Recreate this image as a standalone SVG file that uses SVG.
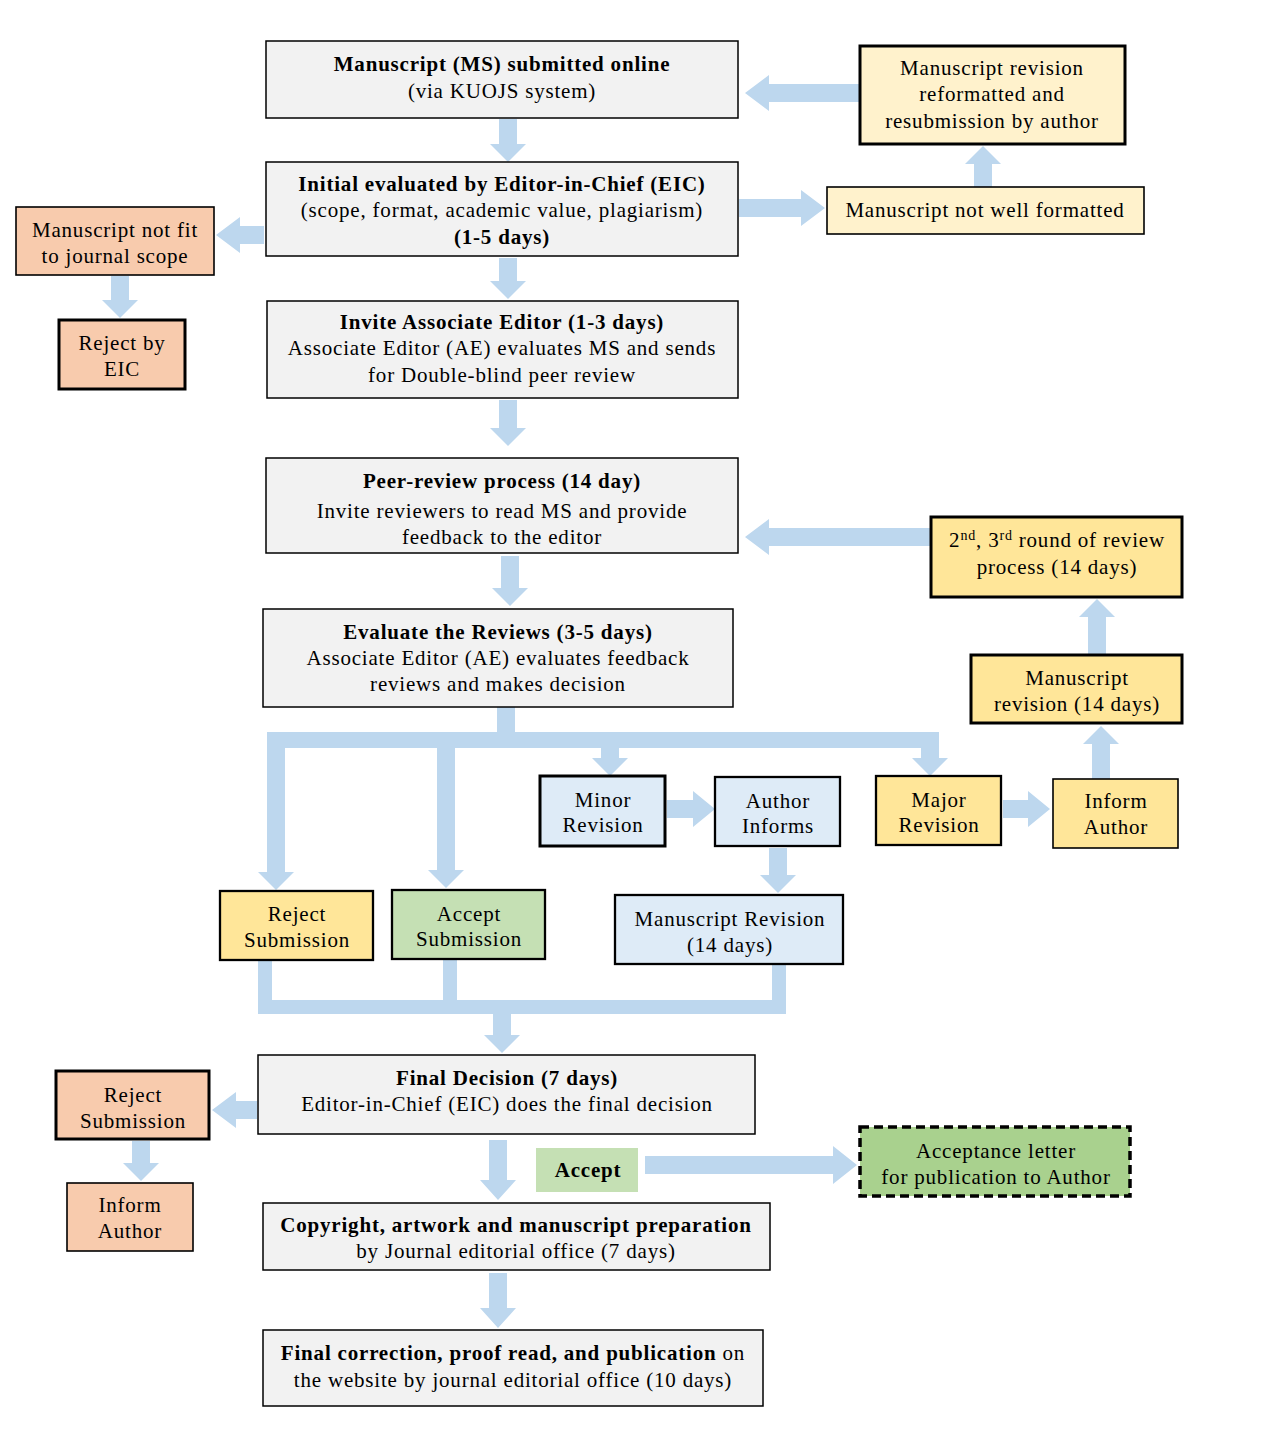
<svg xmlns="http://www.w3.org/2000/svg" width="1275" height="1445" viewBox="0 0 1275 1445">
<style>
text{font-family:"Liberation Serif","Times New Roman",serif;font-size:21px;letter-spacing:0.8px;fill:#000;text-anchor:middle}
.b{font-weight:bold}
.grey{fill:#f2f2f2;stroke:#000;stroke-width:1.5}
.lyel{fill:#fff2cc;stroke:#000}
.peach{fill:#f8cbad;stroke:#000}
.gold{fill:#ffe699;stroke:#000}
.blue{fill:#deebf7;stroke:#000}
.green{fill:#c5e0b4;stroke:#000}
.t1{stroke-width:1.6}
.t2{stroke-width:2.3}
.t3{stroke-width:3}
#connectors *{fill:#bdd7ee;stroke:none}
</style>
<rect width="1275" height="1445" fill="#fff"/>
<g id="connectors">
<polygon points="499,119 517,119 517,144 526,144 508,162 490,144 499,144"/>
<polygon points="860,84 860,102 769,102 769,111 745,93 769,75 769,84"/>
<polygon points="974,187 992,187 992,164 1001,164 983,146 965,164 974,164"/>
<polygon points="739,199 801,199 801,190 825,208 801,226 801,217 739,217"/>
<polygon points="264,226 264,244 240,244 240,253 216,235 240,217 240,226"/>
<polygon points="111,276 129,276 129,300 138,300 120,318 102,300 111,300"/>
<polygon points="499,258 517,258 517,281 526,281 508,299 490,281 499,281"/>
<polygon points="499,400 517,400 517,428 526,428 508,446 490,428 499,428"/>
<polygon points="931,528 931,546 769,546 769,555 745,537 769,519 769,528"/>
<polygon points="501,556 519,556 519,588 528,588 510,606 492,588 501,588"/>
<polygon points="1088,655 1106,655 1106,617 1115,617 1097,599 1079,617 1088,617"/>
<polygon points="1092,779 1110,779 1110,744 1119,744 1101,726 1083,744 1092,744"/>
<polygon points="1003,800 1028,800 1028,791 1050,809 1028,827 1028,818 1003,818"/>
<polygon points="667,800 693,800 693,791 715,809 693,827 693,818 667,818"/>
<polygon points="769,848 787,848 787,875 796,875 778,893 760,875 769,875"/>
<rect x="497" y="707" width="18" height="34"/>
<rect x="267" y="732" width="672" height="16"/>
<polygon points="267,740 285,740 285,872 294,872 276,890 258,872 267,872"/>
<polygon points="437,740 455,740 455,870 464,870 446,888 428,870 437,870"/>
<polygon points="601,740 619,740 619,758 628,758 610,776 592,758 601,758"/>
<polygon points="921,732 939,732 939,758 948,758 930,776 912,758 921,758"/>
<rect x="258" y="961" width="14" height="53"/>
<rect x="443" y="960" width="14" height="54"/>
<rect x="772" y="965" width="14" height="49"/>
<rect x="258" y="1000" width="528" height="14"/>
<polygon points="493,1000 511,1000 511,1035 520,1035 502,1053 484,1035 493,1035"/>
<polygon points="257,1101 257,1119 236,1119 236,1128 212,1110 236,1092 236,1101"/>
<polygon points="132,1141 150,1141 150,1163 159,1163 141,1181 123,1163 132,1163"/>
<polygon points="489,1140 507,1140 507,1180 516,1180 498,1200 480,1180 489,1180"/>
<polygon points="645,1156 833,1156 833,1146 857,1165 833,1184 833,1174 645,1174"/>
<polygon points="489,1273 507,1273 507,1308 516,1308 498,1328 480,1308 489,1308"/>
</g>
<g id="n1"><rect class="grey" x="266" y="41" width="472" height="77"/>
<text x="502" y="71" class="b">Manuscript (MS) submitted online</text>
<text x="502" y="98">(via KUOJS system)</text></g>
<g id="n2"><rect class="lyel t3" x="860" y="46" width="265" height="98"/>
<text x="992" y="75">Manuscript revision</text>
<text x="992" y="101">reformatted and</text>
<text x="992" y="128">resubmission by author</text></g>
<g id="n3"><rect class="grey" x="266" y="162" width="472" height="94"/>
<text x="502" y="191" class="b">Initial evaluated by Editor-in-Chief (EIC)</text>
<text x="502" y="217">(scope, format, academic value, plagiarism)</text>
<text x="502" y="244" class="b">(1-5 days)</text></g>
<g id="n4"><rect class="lyel t1" x="827" y="187" width="317" height="47"/>
<text x="985" y="217">Manuscript not well formatted</text></g>
<g id="n5"><rect class="peach t1" x="16" y="207" width="198" height="68"/>
<text x="115" y="237">Manuscript not fit</text>
<text x="115" y="263">to journal scope</text></g>
<g id="n6"><rect class="peach t3" x="59" y="320" width="126" height="69"/>
<text x="122" y="350">Reject by</text>
<text x="122" y="376">EIC</text></g>
<g id="n7"><rect class="grey" x="267" y="301" width="471" height="97"/>
<text x="502" y="329" class="b">Invite Associate Editor (1-3 days)</text>
<text x="502" y="355">Associate Editor (AE) evaluates MS and sends</text>
<text x="502" y="382">for Double-blind peer review</text></g>
<g id="n8"><rect class="grey" x="266" y="458" width="472" height="95"/>
<text x="502" y="488" class="b">Peer-review process (14 day)</text>
<text x="502" y="518">Invite reviewers to read MS and provide</text>
<text x="502" y="544">feedback to the editor</text></g>
<g id="n9"><rect class="gold t3" x="931" y="517" width="251" height="80"/>
<text x="1057" y="547">2<tspan dy="-7" font-size="14">nd</tspan><tspan dy="7">, 3</tspan><tspan dy="-7" font-size="14">rd</tspan><tspan dy="7"> round of review</tspan></text>
<text x="1057" y="574">process (14 days)</text></g>
<g id="n10"><rect class="grey" x="263" y="609" width="470" height="98"/>
<text x="498" y="639" class="b">Evaluate the Reviews (3-5 days)</text>
<text x="498" y="665">Associate Editor (AE) evaluates feedback</text>
<text x="498" y="691">reviews and makes decision</text></g>
<g id="n11"><rect class="gold t3" x="971" y="655" width="211" height="68"/>
<text x="1077" y="685">Manuscript</text>
<text x="1077" y="711">revision (14 days)</text></g>
<g id="n12"><rect class="blue t3" x="540" y="776" width="125" height="70"/>
<text x="603" y="807">Minor</text>
<text x="603" y="832">Revision</text></g>
<g id="n13"><rect class="blue t2" x="715" y="777" width="125" height="69"/>
<text x="778" y="808">Author</text>
<text x="778" y="833">Informs</text></g>
<g id="n14"><rect class="gold t2" x="876" y="776" width="125" height="69"/>
<text x="939" y="807">Major</text>
<text x="939" y="832">Revision</text></g>
<g id="n15"><rect class="gold t1" x="1053" y="779" width="125" height="69"/>
<text x="1116" y="808">Inform</text>
<text x="1116" y="834">Author</text></g>
<g id="n16"><rect class="gold t2" x="220" y="891" width="153" height="69"/>
<text x="297" y="921">Reject</text>
<text x="297" y="947">Submission</text></g>
<g id="n17"><rect class="green t2" x="392" y="890" width="153" height="69"/>
<text x="469" y="921">Accept</text>
<text x="469" y="946">Submission</text></g>
<g id="n18"><rect class="blue t2" x="615" y="895" width="228" height="69"/>
<text x="730" y="926">Manuscript Revision</text>
<text x="730" y="952">(14 days)</text></g>
<g id="n19"><rect class="grey" x="258" y="1055" width="497" height="79"/>
<text x="507" y="1085" class="b">Final Decision (7 days)</text>
<text x="507" y="1111">Editor-in-Chief (EIC) does the final decision</text></g>
<g id="n20"><rect class="peach t3" x="56" y="1071" width="153" height="68"/>
<text x="133" y="1102">Reject</text>
<text x="133" y="1128">Submission</text></g>
<g id="n21"><rect class="peach t1" x="67" y="1183" width="126" height="68"/>
<text x="130" y="1212">Inform</text>
<text x="130" y="1238">Author</text></g>
<g id="n22"><rect x="536" y="1148" width="102" height="44" fill="#c5e0b4"/>
<text x="588" y="1177" class="b">Accept</text></g>
<g id="n23"><rect x="860" y="1127" width="270" height="69" fill="#a9d18e" stroke="#000" stroke-width="3.5" stroke-dasharray="9,5"/>
<text x="996" y="1158">Acceptance letter</text>
<text x="996" y="1184">for publication to Author</text></g>
<g id="n24"><rect class="grey" x="263" y="1203" width="507" height="67"/>
<text x="516" y="1232" class="b">Copyright, artwork and manuscript preparation</text>
<text x="516" y="1258">by Journal editorial office (7 days)</text></g>
<g id="n25"><rect class="grey" x="263" y="1330" width="500" height="76"/>
<text x="513" y="1360"><tspan class="b">Final correction, proof read, and publication</tspan> on</text>
<text x="513" y="1387">the website by journal editorial office (10 days)</text></g>
</svg>
